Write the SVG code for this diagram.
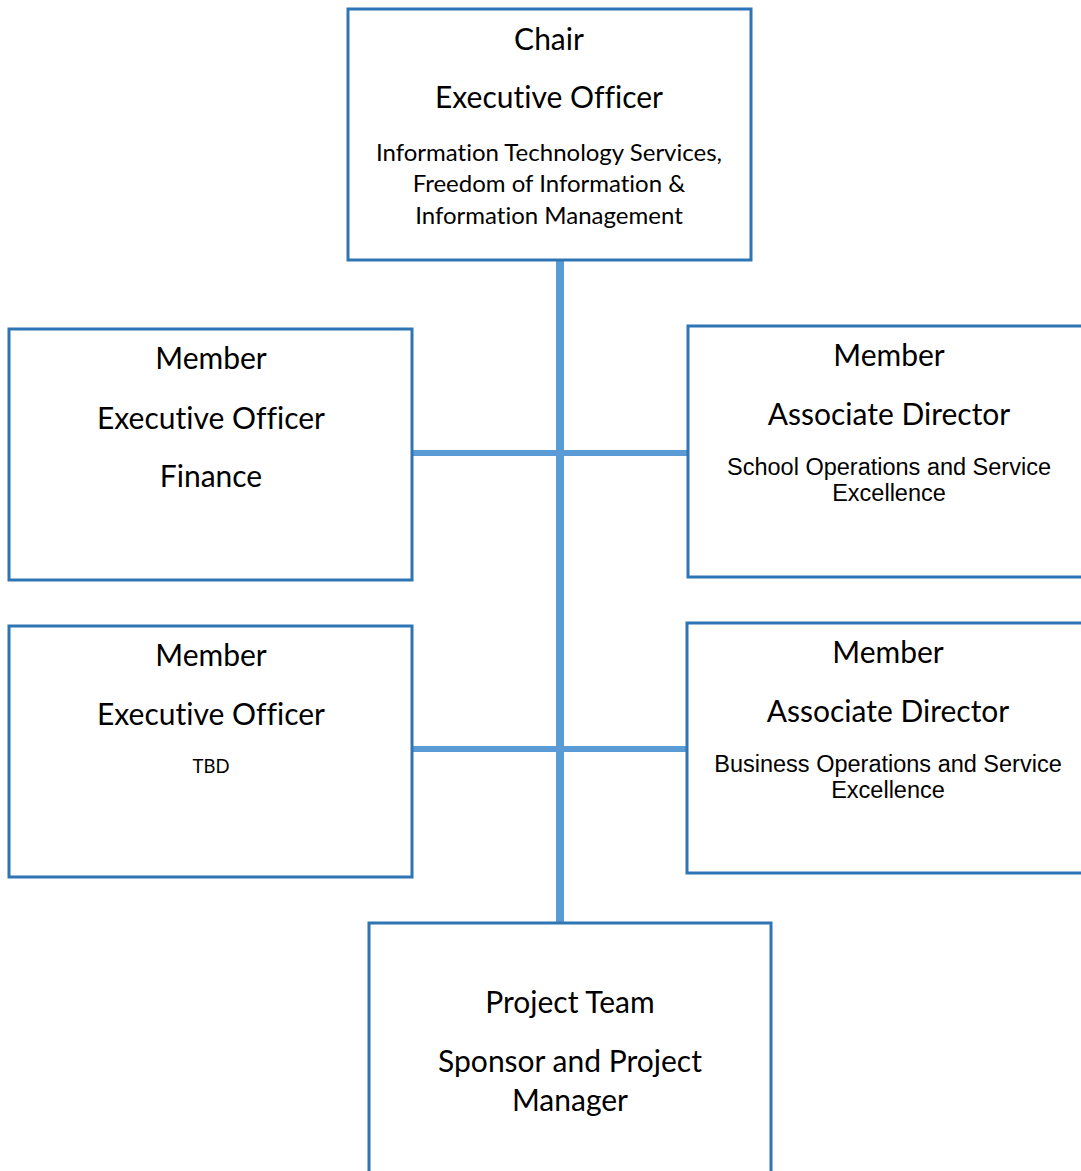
<svg xmlns="http://www.w3.org/2000/svg" width="1081" height="1171" viewBox="0 0 1081 1171">
<style>
.box{fill:#fff;stroke:#2E75B6;stroke-width:3}
.conn{stroke:#5B9BD5;fill:none}
.c{font-family:Lato,"Open Sans",sans-serif;fill:#000;text-anchor:middle;font-variant-ligatures:none}
.h{font-size:30px}
.s{font-size:24px}
.a{font-family:"Liberation Sans",Arial,sans-serif;font-size:23.5px;fill:#000;text-anchor:middle}
</style>
<rect width="1081" height="1171" fill="#fff"/>
<g id="connectors">
<line class="conn" x1="560" y1="260" x2="560" y2="923" stroke-width="8"/>
<line class="conn" x1="412" y1="453" x2="688" y2="453" stroke-width="6"/>
<line class="conn" x1="412" y1="749" x2="687" y2="749" stroke-width="6"/>
</g>
<g id="chair">
<rect class="box" x="348" y="9" width="403" height="251"/>
<text class="c h" x="549" y="50">Chair</text>
<text class="c h" x="549" y="108">Executive Officer</text>
<text class="c s" x="549" y="161">Information Technology Services,</text>
<text class="c s" x="549" y="192">Freedom of Information &amp;</text>
<text class="c s" x="549" y="224">Information Management</text>
</g>
<g id="member-finance">
<rect class="box" x="9" y="329" width="403" height="251"/>
<text class="c h" x="211" y="369">Member</text>
<text class="c h" x="211" y="429">Executive Officer</text>
<text class="c h" x="211" y="487">Finance</text>
</g>
<g id="member-school">
<rect class="box" x="688" y="326" width="400" height="251"/>
<text class="c h" x="889" y="366">Member</text>
<text class="c h" x="889" y="425">Associate Director</text>
<text class="a" x="889" y="475">School Operations and Service</text>
<text class="a" x="889" y="501">Excellence</text>
</g>
<g id="member-tbd">
<rect class="box" x="9" y="626" width="403" height="251"/>
<text class="c h" x="211" y="666">Member</text>
<text class="c h" x="211" y="725">Executive Officer</text>
<text class="c" x="211" y="773" font-size="18.5">TBD</text>
</g>
<g id="member-business">
<rect class="box" x="687" y="623" width="400" height="250"/>
<text class="c h" x="888" y="663">Member</text>
<text class="c h" x="888" y="722">Associate Director</text>
<text class="a" x="888" y="772">Business Operations and Service</text>
<text class="a" x="888" y="798">Excellence</text>
</g>
<g id="project-team">
<rect class="box" x="369" y="923" width="402" height="260"/>
<text class="c h" x="570" y="1013">Project Team</text>
<text class="c h" x="570" y="1072">Sponsor and Project</text>
<text class="c h" x="570" y="1111">Manager</text>
</g>
</svg>
